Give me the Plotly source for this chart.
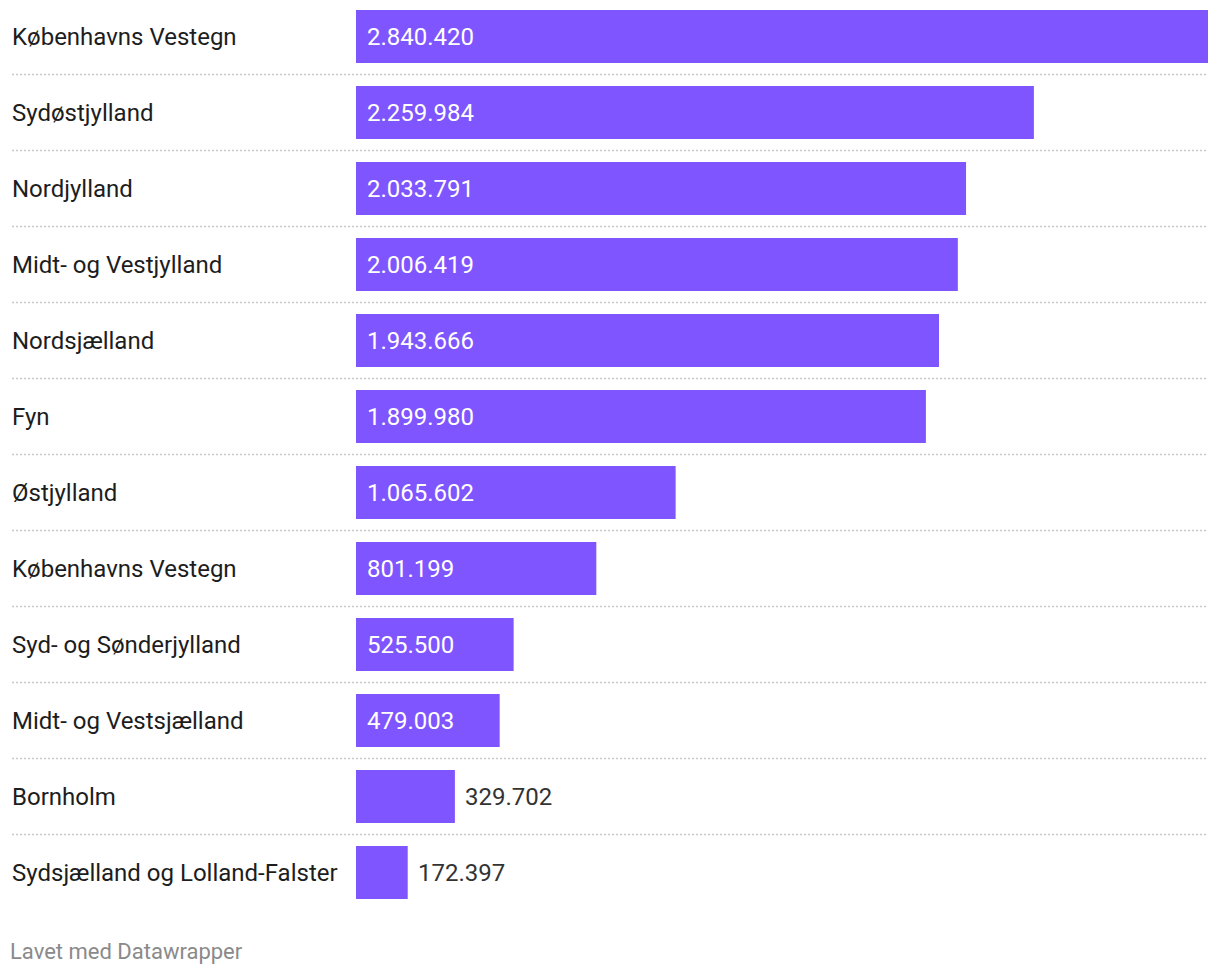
import plotly.graph_objects as go

regions = [
    "Københavns Vestegn",
    "Sydøstjylland",
    "Nordjylland",
    "Midt- og Vestjylland",
    "Nordsjælland",
    "Fyn",
    "Østjylland",
    "Københavns Vestegn",
    "Syd- og Sønderjylland",
    "Midt- og Vestsjælland",
    "Bornholm",
    "Sydsjælland og Lolland-Falster",
]
values = [2840420, 2259984, 2033791, 2006419, 1943666, 1899980,
          1065602, 801199, 525500, 479003, 329702, 172397]
value_labels = ["2.840.420", "2.259.984", "2.033.791", "2.006.419", "1.943.666",
                "1.899.980", "1.065.602", "801.199", "525.500", "479.003",
                "329.702", "172.397"]

W, H = 1220, 976
ML, MR, MT, MB = 356, 12, 0, 64
plot_w = W - ML - MR
plot_h = H - MT - MB
xmax = max(values)
n = len(values)
pos = list(range(n))

BAR = "#7F55FF"
FONT = "Roboto, 'Open Sans', sans-serif"

fig = go.Figure(go.Bar(
    x=values, y=pos, orientation="h",
    marker=dict(color=BAR, line=dict(width=0)),
    width=0.70, hoverinfo="skip",
))

def px_to_paper_x(px):
    return (px - ML) / plot_w

label_x_paper = px_to_paper_x(12)
annotations = []
for i, (name, v, lab) in enumerate(zip(regions, values, value_labels)):
    annotations.append(dict(
        x=label_x_paper, xref="paper", y=i, yref="y", text=name,
        showarrow=False, xanchor="left", yanchor="middle",
        borderpad=0, borderwidth=0,
        font=dict(family=FONT, size=24, color="#1d1d1d"),
    ))
    bar_px = v / xmax * plot_w
    inside = bar_px > 125
    annotations.append(dict(
        x=0 if inside else v, xref="x", y=i, yref="y", text=lab,
        showarrow=False, xanchor="left", yanchor="middle",
        borderpad=0, borderwidth=0,
        xshift=11 if inside else 10,
        font=dict(family=FONT, size=24, color="#ffffff" if inside else "#333333"),
    ))

annotations.append(dict(
    x=px_to_paper_x(10), xref="paper",
    y=(H - MB - 952) / plot_h, yref="paper",
    text="Lavet med Datawrapper", showarrow=False,
    xanchor="left", yanchor="middle",
    borderpad=0, borderwidth=0,
    font=dict(family=FONT, size=22, color="#8a8a8a"),
))

shapes = []
for k in range(n - 1):
    shapes.append(dict(
        type="line", xref="paper", yref="y",
        x0=label_x_paper, x1=1, y0=k + 0.5, y1=k + 0.5,
        line=dict(color="#c8c8c8", width=1.5, dash="2px,2px"),
        layer="below",
    ))

d = 0.5 - 36.5 / 76
fig.update_layout(
    width=W, height=H,
    margin=dict(l=ML, r=MR, t=MT, b=MB, pad=0),
    paper_bgcolor="white", plot_bgcolor="white",
    showlegend=False,
    xaxis=dict(range=[0, xmax], visible=False, fixedrange=True),
    yaxis=dict(range=[n - 0.5 + d, -0.5 + d], visible=False, fixedrange=True),
    annotations=annotations, shapes=shapes,
    bargap=0.3,
)

fig.write_html("out.html", config={"displayModeBar": False},
               post_script="document.body.style.margin='0';")
